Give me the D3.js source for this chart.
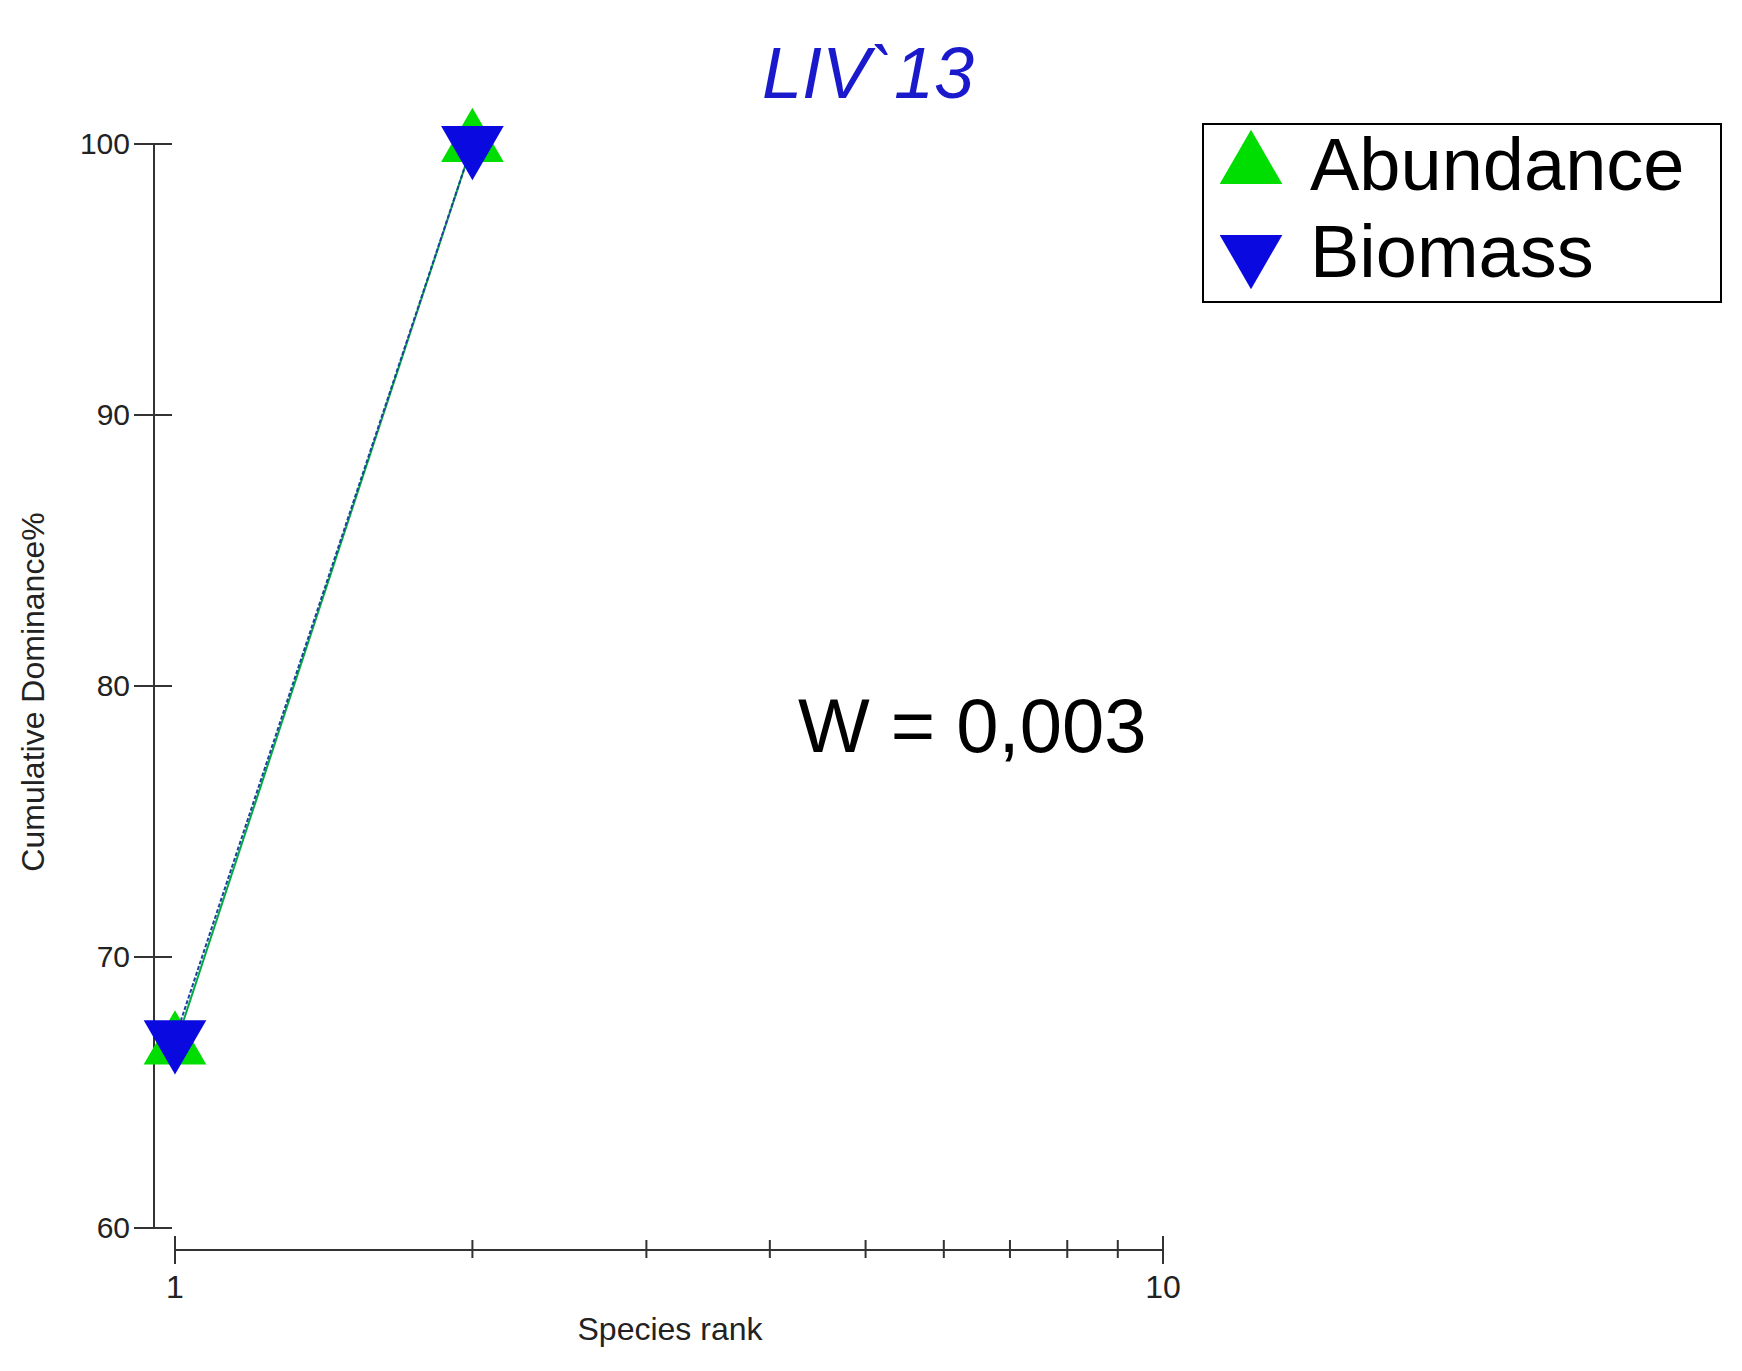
<!DOCTYPE html><html><head><meta charset="utf-8"><script src="https://cdn.jsdelivr.net/npm/d3@7"></script>
<style>body{margin:0;background:#fff}</style></head><body><svg id="c" width="1742" height="1371"></svg>
<script>
const ranks=[1,2];
const abundance=[66.7,100];
const biomass=[67.0,100];
const yTicks=[60,70,80,90,100];
const xTicks=[1,2,3,4,5,6,7,8,9,10];
const xLabels={1:"1",10:"10"};
const svg=d3.select("#c");
const x=d3.scaleLog().domain([1,10]).range([175,1163]);
const y=d3.scaleLinear().domain([60,100]).range([1228,144]);
const F="Liberation Sans, Arial, sans-serif";
svg.append("line").attr("x1",154).attr("x2",154).attr("y1",y(100)).attr("y2",y(60)).attr("stroke","#333").attr("stroke-width",2);
yTicks.forEach(t=>{svg.append("line").attr("x1",134).attr("x2",172).attr("y1",y(t)).attr("y2",y(t)).attr("stroke","#333").attr("stroke-width",2);
 svg.append("text").attr("x",130).attr("y",y(t)+10).attr("text-anchor","end").attr("font-family",F).attr("font-size",30).attr("fill","#222").text(t);});
const ay=1250;
svg.append("line").attr("x1",x(1)).attr("x2",x(10)).attr("y1",ay).attr("y2",ay).attr("stroke","#333").attr("stroke-width",2);
xTicks.forEach(t=>{const big=xLabels[t]!==undefined;svg.append("line").attr("x1",x(t)).attr("x2",x(t)).attr("y1",ay-(big?14:10)).attr("y2",ay+(big?14:8)).attr("stroke","#333").attr("stroke-width",2);
 if(big)svg.append("text").attr("x",x(t)).attr("y",ay+48).attr("text-anchor","middle").attr("font-family",F).attr("font-size",32).attr("fill","#222").text(xLabels[t]);});
svg.append("text").attr("x",670).attr("y",1340).attr("text-anchor","middle").attr("font-family",F).attr("font-size",32).attr("fill","#222").text("Species rank");
svg.append("text").attr("transform","translate(44,692) rotate(-90)").attr("text-anchor","middle").attr("font-family",F).attr("font-size",32).attr("fill","#222").text("Cumulative Dominance%");
svg.append("text").attr("x",868).attr("y",98).attr("text-anchor","middle").attr("font-family",F).attr("font-style","italic").attr("font-size",72).attr("fill","#1a1acc").text("LIV`13");
const line=d3.line().x((d,i)=>x(ranks[i])).y(d=>y(d));
svg.append("path").attr("d",line(abundance)).attr("fill","none").attr("stroke","#00aa44").attr("stroke-width",2);
svg.append("path").attr("d",line(biomass)).attr("fill","none").attr("stroke","#2040a0").attr("stroke-width",2).attr("stroke-dasharray","4,2");
const up=d3.symbol().type(d3.symbolTriangle).size(1700);
abundance.forEach((v,i)=>svg.append("path").attr("d",up()).attr("transform",`translate(${x(ranks[i])},${y(v)})`).attr("fill","#00dd00"));
biomass.forEach((v,i)=>svg.append("path").attr("d",up()).attr("transform",`translate(${x(ranks[i])},${y(v)}) rotate(180)`).attr("fill","#0a0ae0"));
svg.append("text").attr("x",798).attr("y",752).attr("font-family",F).attr("font-size",76).attr("fill","#000").text("W = 0,003");
svg.append("rect").attr("x",1203).attr("y",124).attr("width",518).attr("height",178).attr("fill","#fff").attr("stroke","#000").attr("stroke-width",2);
const leg=[["Abundance","#00dd00",0,190],["Biomass","#0a0ae0",180,277]];
leg.forEach(l=>{svg.append("path").attr("d",up()).attr("transform",`translate(1251,${l[3]-24}) rotate(${l[2]})`).attr("fill",l[1]);
 svg.append("text").attr("x",1310).attr("y",l[3]).attr("font-family",F).attr("font-size",74).attr("fill","#000").text(l[0]);});
</script></body></html>
